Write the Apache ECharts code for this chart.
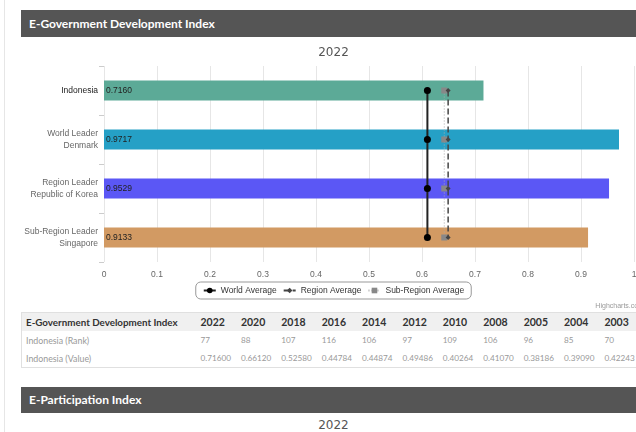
<!DOCTYPE html>
<html>
<head>
<meta charset="utf-8">
<script src="https://cdn.jsdelivr.net/npm/echarts@6/dist/echarts.min.js"></script>
<style>
  html, body { margin: 0; padding: 0; background: #fff; }
  body { width: 636px; height: 432px; overflow: hidden; position: relative; font-family: Lato, "Open Sans", sans-serif; }
  .vline { position: absolute; left: 4px; top: 0; width: 1px; height: 432px; background: #e6e6e6; }
  .hdr { position: absolute; left: 21px; width: 640px; background: #555555; color: #fff; font-weight: bold; font-size: 12px; padding-left: 8px; box-sizing: border-box; }
  #chart { position: absolute; left: 21px; top: 37px; width: 625px; height: 275px; }
  table { position: absolute; left: 21px; top: 312px; border-collapse: collapse; table-layout: fixed; width: 620px; border: 1px solid #e0e0e0; }
  th, td { padding: 0 0 0 4px; text-align: left; white-space: nowrap; overflow: hidden; }
  th { background: #f0f0f0; color: #333; font-weight: bold; font-size: 10.5px; height: 18px; }
  th.first { font-size: 9.8px; }
  td { color: #999; font-size: 8.8px; height: 18px; }
  td.num { font-size: 8.2px; }
  .sub2022 { position: absolute; left: 21px; top: 418px; width: 625px; text-align: center; font-family: "DejaVu Sans", sans-serif; font-size: 12px; color: #555; }
</style>
</head>
<body>
<div class="vline"></div>
<div class="hdr" id="hdr1" style="top:10px;height:27px;line-height:27px;"></div>
<div id="chart"></div>
<table id="tbl"></table>
<div class="hdr" id="hdr2" style="top:387px;height:26px;line-height:26px;"></div>
<div class="sub2022" id="sub2022"></div>
<script>
// ---- data ----
const sectionTitles = ['E-Government Development Index', 'E-Participation Index'];
const chartYear = '2022';
const categories = ['Indonesia', 'World Leader\nDenmark', 'Region Leader\nRepublic of Korea', 'Sub-Region Leader\nSingapore'];
const egdiValues = [0.7160, 0.9717, 0.9529, 0.9133];
const worldAverage = [0.6102, 0.6102, 0.6102, 0.6102];
const regionAverage = [0.6493, 0.6493, 0.6493, 0.6493];
const subRegionAverage = [0.6420, 0.6420, 0.6420, 0.6420];
const seriesNames = ['World Average', 'Region Average', 'Sub-Region Average'];
const tableYears = ['2022', '2020', '2018', '2016', '2014', '2012', '2010', '2008', '2005', '2004', '2003'];
const rankRow = ['77', '88', '107', '116', '106', '97', '109', '106', '96', '85', '70'];
const valueRow = ['0.71600', '0.66120', '0.52580', '0.44784', '0.44874', '0.49486', '0.40264', '0.41070', '0.38186', '0.39090', '0.42243'];
const rowLabels = ['Indonesia (Rank)', 'Indonesia (Value)'];

// ---- styles ----
const barColors = ['#5caa97', '#25a0c6', '#5b57f5', '#d29a63'];
const labelFont = '"Liberation Sans", Arial, sans-serif';

document.getElementById('hdr1').textContent = sectionTitles[0];
document.getElementById('hdr2').textContent = sectionTitles[1];
document.getElementById('sub2022').textContent = chartYear;

// table
(function () {
  const t = document.getElementById('tbl');
  let html = '<colgroup><col style="width:175px">' + tableYears.map(() => '<col style="width:40.4px">').join('') + '</colgroup>';
  html += '<tr><th class="first">' + sectionTitles[0] + '</th>' + tableYears.map(y => '<th>' + y + '</th>').join('') + '</tr>';
  html += '<tr><td>' + rowLabels[0] + '</td>' + rankRow.map(v => '<td class="num">' + v + '</td>').join('') + '</tr>';
  html += '<tr><td>' + rowLabels[1] + '</td>' + valueRow.map(v => '<td class="num">' + v + '</td>').join('') + '</tr>';
  t.innerHTML = html;
})();

const chart = echarts.init(document.getElementById('chart'), null, { renderer: 'canvas' });
const option = {
  animation: false,
  title: {
    text: chartYear, left: 'center', top: 5,
    textStyle: { fontFamily: '"DejaVu Sans", sans-serif', fontSize: 12, fontWeight: 'normal', color: '#555' }
  },
  legend: {
    data: seriesNames, left: 'center', top: 245,
    borderColor: '#999', borderWidth: 1, borderRadius: 5, padding: [4, 7],
    itemWidth: 12, itemHeight: 7, itemGap: 6,
    textStyle: { fontFamily: labelFont, fontSize: 8.5, color: '#333' }
  },
  grid: { left: 83, right: 12, top: 29, height: 196, outerBoundsMode: 'none' },
  xAxis: {
    type: 'value', min: 0, max: 1, interval: 0.1,
    axisLine: { show: false }, axisTick: { show: false },
    splitLine: { lineStyle: { color: '#e6e6e6' } },
    axisLabel: { fontFamily: labelFont, fontSize: 8.5, color: '#666', margin: 8,
      formatter: v => String(Math.round(v * 10) / 10) }
  },
  yAxis: {
    type: 'category', inverse: true,
    data: categories.map((c, i) => ({ value: c, textStyle: { color: i === 0 ? '#222' : '#666' } })),
    axisLine: { show: false },
    axisTick: { show: true, length: 5, lineStyle: { color: '#ccc' } },
    axisLabel: { fontFamily: labelFont, fontSize: 8.5, lineHeight: 12, margin: 6, align: 'right' }
  },
  graphic: [{
    type: 'text', right: 2, top: 266,
    style: { text: 'Highcharts.com', fontFamily: labelFont, fontSize: 7, fill: '#999' }
  }],
  series: [
    {
      type: 'bar', barWidth: 20, silent: true,
      data: egdiValues.map((v, i) => ({ value: v, itemStyle: { color: barColors[i] } })),
      label: { show: true, position: 'insideLeft', distance: 2, formatter: p => p.value.toFixed(4),
        fontFamily: labelFont, fontSize: 8.5, color: '#222' }
    },
    {
      name: seriesNames[2], type: 'line', z: 3,
      data: subRegionAverage.map((v, i) => [v, i]),
      symbol: 'rect', symbolSize: 6,
      itemStyle: { color: '#888' },
      lineStyle: { color: '#aaa', width: 1, type: [1, 2] }
    },
    {
      name: seriesNames[1], type: 'line', z: 4,
      data: regionAverage.map((v, i) => [v, i]),
      symbol: 'diamond', symbolSize: 5,
      itemStyle: { color: '#444' },
      lineStyle: { color: '#444', width: 1.5, type: [6, 3] }
    },
    {
      name: seriesNames[0], type: 'line', z: 5,
      data: worldAverage.map((v, i) => [v, i]),
      symbol: 'circle', symbolSize: 7,
      itemStyle: { color: '#000' },
      lineStyle: { color: '#222', width: 2 }
    }
  ]
};
chart.setOption(option);
</script>
</body>
</html>
